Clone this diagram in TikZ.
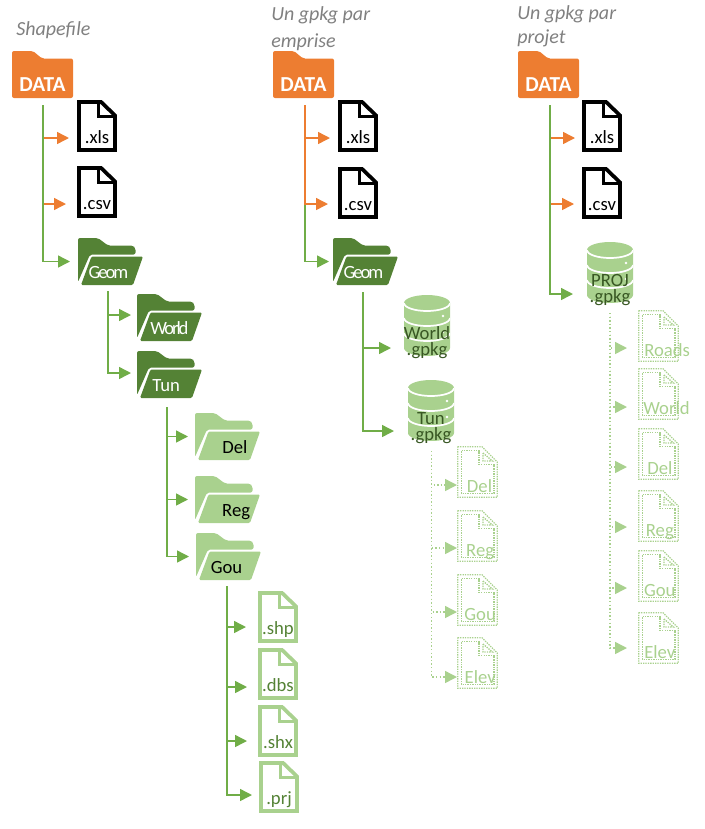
\documentclass[tikz,border=0pt]{standalone}
\usepackage{fontspec}
\setmainfont{Carlito}
\usetikzlibrary{arrows.meta,positioning}

\definecolor{orangefile}{HTML}{ED7D31}
\definecolor{greenlink}{HTML}{70AD47}
\definecolor{darkfolder}{HTML}{548235}
\definecolor{lightfolder}{HTML}{A9D18E}
\definecolor{dbtext}{HTML}{385723}
\definecolor{titlegray}{HTML}{808080}

% label pushed sideways, takes no room in its node
\newcommand{\offlabel}[2]{\makebox[0pt]{\hspace*{#1}#2}}
\newcommand{\dblabel}[1]{\makebox[0pt]{\raisebox{11.5pt}{#1}}\makebox[0pt]{.gpkg}}
\newcommand{\tightlabel}[1]{\addfontfeature{LetterSpace=-11}#1}
\newcommand{\nw}{path picture bounding box.north west}

\tikzset{
  icon/.style={anchor=north west,inner sep=0pt,outer sep=0pt,text depth=0pt},
  orangelink/.style={->,line width=1.1pt,orangefile},
  greenarrow/.style={->,line width=1.1pt,greenlink},
  dotlink/.style={->,line width=1.1pt,lightfolder,dash pattern=on 1.1pt off 1.6pt},
  linkgap/.style={shorten >={#1*0.75pt}},
  titletext/.style={anchor=west,align=left,inner sep=0pt,titlegray,font=\itshape\fontsize{15}{20}\selectfont},
  % closed folder
  datafolder/.style={icon,minimum width=45.75pt,minimum height=35.25pt,text height=26pt,white,
    font=\bfseries\fontsize{16}{18}\selectfont,
    path picture={
      \fill[orangefile,rounded corners=1.5pt] (\nw)
      +(0,0) -- +(21,0) -- +(30,7.5) -- +(61,7.5) -- +(61,47) -- +(0,47) -- cycle;
    }},
  % open folder, back and front
  openfolder/.style={icon,minimum width=48.75pt,minimum height=35.25pt,text height=26pt,
    path picture={
      \fill[#1,rounded corners=1.5pt] (\nw)
      +(0,0) -- +(20,0) -- +(30,7.5) -- +(55,7.5) -- +(57.5,10) -- +(57.5,16.5) -- +(12,16.5) -- +(0,44) -- cycle;
      \fill[#1,rounded corners=1pt] (\nw)
      +(13.5,18.5) -- +(65,18.5) -- +(55,47) -- +(3,47) -- cycle;
    }},
  % plain file
  docfile/.style={icon,minimum width=30pt,minimum height=39pt,text height=26.25pt,
    path picture={
      \draw[line width=2.8pt,#1] (\nw)
      +(1.9,1.9) -- +(24,1.9) -- +(38.1,15.5) -- +(38.1,50.1) -- +(1.9,50.1) -- cycle;
      \draw[line width=2.5pt,#1] (\nw) +(21.7,1.9) -- +(21.7,16.7) -- +(38.1,16.7);
    }},
  % file in dots
  dotfile/.style={icon,minimum width=30.75pt,minimum height=39pt,text height=30pt,lightfolder,
    path picture={
      \begin{scope}[lightfolder,line width=1pt,dash pattern=on 1pt off .8pt]
        \draw (\nw) +(.7,.7) -- +(25,.7) -- +(40.3,16) -- +(40.3,51.3) -- +(.7,51.3) -- cycle;
        \draw (\nw) +(4.5,4.5) -- +(22,4.5) -- +(22,18.5) -- +(37,18.5) -- +(37,47.5) -- +(4.5,47.5) -- cycle;
        \draw (\nw) +(26,7) -- +(35.5,15) -- +(26,15) -- cycle;
      \end{scope}
    }},
  % database
  dbfile/.style={icon,minimum width=34.5pt,minimum height=45.75pt,text height=44.25pt,dbtext,
    path picture={
      \fill[lightfolder] (\nw) ++(0,8)
      arc[start angle=180,end angle=0,x radius=17.25pt,y radius=6pt] -- ++(0,45)
      arc[start angle=360,end angle=180,x radius=17.25pt,y radius=6pt] -- cycle;
      \foreach \bandy in {8,23,38}
        \draw[white,line width=1.3pt] (\nw) ++(0,\bandy)
        arc[start angle=180,end angle=360,x radius=17.25pt,y radius=6pt];
      \fill[white] (\nw) +(39,21) circle (1.1pt) +(39,37) circle (1.1pt);
    }}
}

\begin{document}
\begin{tikzpicture}[x=0.75pt,y=-0.75pt,>={Triangle[length=9pt,width=9pt]},font=\fontsize{14}{16}\selectfont]
  \useasboundingbox (0,0) rectangle (705,829);

  % Shapefile
  \node[titletext] (title a) at (16,30) {Shapefile};
  \node[datafolder]                       (data a) at (12,51)   {DATA};
  \node[docfile=black]                    (xls a)  at (77,100)  {.xls};
  \node[docfile=black]                    (csv a)  at (77,166)  {.csv};
  \node[openfolder=darkfolder,white]      (geom a) at (78,238)  {\offlabel{-3pt}{\tightlabel{Geom}}};
  \node[openfolder=darkfolder,white]      (world a) at (137,294) {\tightlabel{World}};
  \node[openfolder=darkfolder,white]      (tun a)  at (137,351) {\offlabel{-5pt}{Tun}};
  \node[openfolder=lightfolder]           (del a)  at (195,413) {\offlabel{11pt}{Del}};
  \node[openfolder=lightfolder]           (reg a)  at (195,476) {\offlabel{13pt}{Reg}};
  \node[openfolder=lightfolder]           (gou a)  at (196,533) {\offlabel{-3pt}{Gou}};
  \node[docfile=lightfolder,darkfolder]   (shp a)  at (258,591) {.shp};
  \node[docfile=lightfolder,darkfolder]   (dbs a)  at (258,648) {.dbs};
  \node[docfile=lightfolder,darkfolder]   (shx a)  at (258,705) {.shx};
  \node[docfile=lightfolder,darkfolder]   (prj a)  at (259,761) {.prj};

  \draw[orangelink,linkgap=8]  ([shift={(0,7)}]data a.south) |- ([shift={(0,12)}]xls a.west);
  \draw[orangelink,linkgap=11] ([shift={(0,7)}]data a.south) |- ([shift={(0,12)}]csv a.west);
  \draw[greenarrow,linkgap=8]  ([shift={(.7,7)}]data a.south) |- (geom a.west);
  \draw[greenarrow,linkgap=6]  ([shift={(-2.5,6)}]geom a.south) |- ([shift={(0,-2.5)}]world a.west);
  \draw[greenarrow,linkgap=6]  ([shift={(-2.5,6)}]geom a.south) |- ([shift={(0,-1.5)}]tun a.west);
  \draw[greenarrow,linkgap=7]  ([shift={(-2.5,9)}]tun a.south) |- (del a.west);
  \draw[greenarrow,linkgap=7]  ([shift={(-2.5,9)}]tun a.south) |- (reg a.west);
  \draw[greenarrow,linkgap=7]  ([shift={(-2.5,9)}]tun a.south) |- (gou a.west);
  \draw[greenarrow,linkgap=12] ([shift={(-1.5,6)}]gou a.south) |- ([shift={(0,10)}]shp a.west);
  \draw[greenarrow,linkgap=11] ([shift={(-1.5,6)}]gou a.south) |- ([shift={(0,13)}]dbs a.west);
  \draw[greenarrow,linkgap=11] ([shift={(-1.5,6)}]gou a.south) |- ([shift={(0,10)}]shx a.west);
  \draw[greenarrow,linkgap=7]  ([shift={(-1.5,6)}]gou a.south) |- ([shift={(0,8)}]prj a.west);

  % Un gpkg par emprise
  \node[titletext] (title b) at (271,28.5) {Un gpkg par\\emprise};
  \node[datafolder]                       (data b) at (273,51)  {DATA};
  \node[docfile=black]                    (xls b)  at (338,100) {.xls};
  \node[docfile=black]                    (csv b)  at (338,167) {.csv};
  \node[openfolder=darkfolder,white]      (geom b) at (333,238) {\offlabel{-3pt}{\tightlabel{Geom}}};
  \node[dbfile]                           (world b) at (404,295) {\dblabel{World}};
  \node[dbfile]                           (tun b)  at (408,380) {\dblabel{Tun}};
  \node[dotfile]                          (del b)  at (457,446) {\offlabel{3pt}{Del}};
  \node[dotfile]                          (reg b)  at (457,510) {\offlabel{4pt}{Reg}};
  \node[dotfile]                          (gou b)  at (457,574) {\offlabel{4pt}{Gou}};
  \node[dotfile]                          (elev b) at (457,637) {\offlabel{4pt}{Elev}};

  \draw[greenarrow,linkgap=4]  ([shift={(1.5,7)}]data b.south) |- (geom b.west);
  \draw[orangelink,linkgap=8]  ([shift={(1.5,7)}]data b.south) |- ([shift={(0,12)}]xls b.west);
  \draw[orangelink,linkgap=10] ([shift={(1.5,7)}]data b.south) |- ([shift={(0,11)}]csv b.west);
  \draw[greenarrow,linkgap=13] ([shift={(-2.5,7)}]geom b.south) |- ([shift={(0,22.5)}]world b.west);
  \draw[greenarrow,linkgap=14] ([shift={(-2.5,7)}]geom b.south) |- ([shift={(0,20.5)}]tun b.west);
  \draw[dotlink] ([shift={(.5,10)}]tun b.south) |- ([shift={(0,13)}]del b.west);
  \draw[dotlink] ([shift={(.5,10)}]tun b.south) |- ([shift={(0,12)}]reg b.west);
  \draw[dotlink] ([shift={(.5,10)}]tun b.south) |- ([shift={(0,12)}]gou b.west);
  \draw[dotlink] ([shift={(.5,10)}]tun b.south) |- ([shift={(0,14)}]elev b.west);

  % Un gpkg par projet
  \node[titletext] (title c) at (517,26) {Un gpkg par\\[-2pt]projet};
  \node[datafolder]                       (data c) at (518,51)  {DATA};
  \node[docfile=black]                    (xls c)  at (582,100) {.xls};
  \node[docfile=black]                    (csv c)  at (582,167) {.csv};
  \node[dbfile]                           (proj c) at (587,242) {\dblabel{PROJ}};
  \node[dotfile]                          (roads c) at (638,310) {\offlabel{13pt}{Roads}};
  \node[dotfile]                          (world c) at (638,368) {\offlabel{12pt}{World}};
  \node[dotfile]                          (del c)  at (638,428) {\offlabel{2pt}{Del}};
  \node[dotfile]                          (reg c)  at (638,490) {\offlabel{2pt}{Reg}};
  \node[dotfile]                          (gou c)  at (638,550) {\offlabel{2pt}{Gou}};
  \node[dotfile]                          (elev c) at (638,612) {\offlabel{2pt}{Elev}};

  \draw[orangelink,linkgap=7]  ([shift={(1.5,7)}]data c.south) |- ([shift={(0,12)}]xls c.west);
  \draw[orangelink,linkgap=8]  ([shift={(1.5,7)}]data c.south) |- ([shift={(0,11)}]csv c.west);
  \draw[greenarrow,linkgap=14] ([shift={(1.5,7)}]data c.south) |- ([shift={(0,21.5)}]proj c.west);
  \draw[dotlink,linkgap=11] ([shift={(0,10)}]proj c.south) |- ([shift={(0,12)}]roads c.west);
  \draw[dotlink,linkgap=11] ([shift={(0,10)}]proj c.south) |- ([shift={(0,13)}]world c.west);
  \draw[dotlink,linkgap=11] ([shift={(0,10)}]proj c.south) |- ([shift={(0,13)}]del c.west);
  \draw[dotlink,linkgap=11] ([shift={(0,10)}]proj c.south) |- ([shift={(0,11)}]reg c.west);
  \draw[dotlink,linkgap=11] ([shift={(0,10)}]proj c.south) |- ([shift={(0,12)}]gou c.west);
  \draw[dotlink,linkgap=11] ([shift={(0,10)}]proj c.south) |- ([shift={(0,10)}]elev c.west);
\end{tikzpicture}
\end{document}
